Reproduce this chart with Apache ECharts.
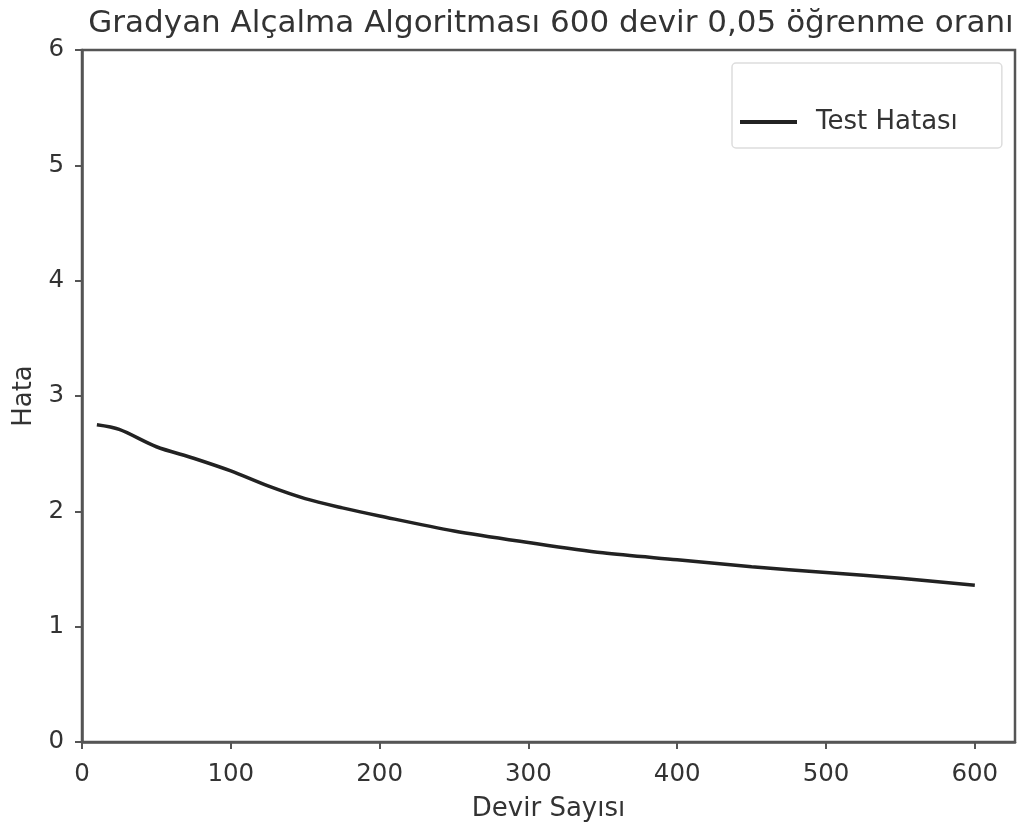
<!DOCTYPE html>
<html>
<head>
<meta charset="utf-8">
<script src="https://cdn.jsdelivr.net/npm/echarts@6/dist/echarts.min.js"></script>
<style>
  html, body { margin: 0; padding: 0; background: #fff; }
  #chart { width: 1021px; height: 827px; }
</style>
</head>
<body>
<div id="chart"></div>
<script>
// Test error of gradient descent over training epochs
const epochs = [10, 25, 50, 75, 100, 125, 150, 175, 200, 250, 300, 350, 400, 450, 500, 550, 600];
const testError = [2.75, 2.71, 2.56, 2.46, 2.35, 2.22, 2.11, 2.03, 1.96, 1.83, 1.73, 1.64, 1.58, 1.52, 1.47, 1.42, 1.36];
const seriesName = 'Test Hatası';
const titleText = 'Gradyan Alçalma Algoritması 600 devir 0,05 öğrenme oranı';
const xName = 'Devir Sayısı';
const yName = 'Hata';

const FONT = 'DejaVu Sans';
const TEXT = '#333';
const AXIS = '#555';

const chart = echarts.init(document.getElementById('chart'));
chart.setOption({
  animation: false,
  backgroundColor: '#fff',
  title: {
    text: titleText,
    left: 546,
    textAlign: 'center',
    top: 3,
    textStyle: { fontFamily: FONT, fontSize: 31, fontWeight: 'normal', color: TEXT }
  },
  legend: {
    left: 732,
    top: 63,
    padding: [46, 44, 13, 8],
    backgroundColor: '#fff',
    borderColor: '#ddd',
    borderWidth: 1.5,
    borderRadius: 4,
    icon: 'rect',
    itemWidth: 57,
    itemHeight: 4,
    textStyle: { fontFamily: FONT, fontSize: 26, color: TEXT, padding: [0, 0, 0, 14] },
    data: [seriesName]
  },
  grid: {
    left: 82, top: 50, right: 6, bottom: 84,
    show: true, borderColor: AXIS, borderWidth: 2.5, backgroundColor: 'transparent'
  },
  xAxis: {
    type: 'value',
    min: 0, max: 627, interval: 100,
    name: xName,
    nameLocation: 'middle',
    nameGap: 54,
    nameTextStyle: { fontFamily: FONT, fontSize: 26, color: TEXT },
    axisLine: { show: true, lineStyle: { color: AXIS, width: 2.5 } },
    axisTick: { show: true, length: 7, lineStyle: { color: AXIS, width: 2 } },
    axisLabel: { fontFamily: FONT, fontSize: 24.5, color: TEXT, margin: 20, showMaxLabel: false },
    splitLine: { show: false }
  },
  yAxis: {
    type: 'value',
    min: 0, max: 6, interval: 1,
    name: yName,
    nameLocation: 'middle',
    nameGap: 45,
    nameRotate: 90,
    nameTextStyle: { fontFamily: FONT, fontSize: 26, color: TEXT },
    axisLine: { show: true, lineStyle: { color: AXIS, width: 2.5 } },
    axisTick: { show: true, length: 7, lineStyle: { color: AXIS, width: 2 } },
    axisLabel: { fontFamily: FONT, fontSize: 24.5, color: TEXT, margin: 18 },
    splitLine: { show: false }
  },
  series: [{
    name: seriesName,
    type: 'line',
    data: epochs.map((e, i) => [e, testError[i]]),
    showSymbol: false,
    smooth: 0.3,
    lineStyle: { color: '#222', width: 3.5 },
    itemStyle: { color: '#222' }
  }]
});
</script>
</body>
</html>
